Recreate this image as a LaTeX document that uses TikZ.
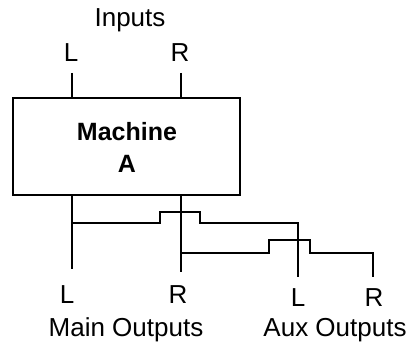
\documentclass[tikz,border=0pt]{standalone}
\usepackage{fontspec}
\setmainfont{Liberation Sans}
\usetikzlibrary{positioning}
\begin{document}
\begin{tikzpicture}[x=0.5pt,y=-0.5pt,line width=1pt,
                    font=\fontsize{13}{15}\selectfont]
  \tikzstyle{machine}=[draw,rectangle,inner sep=0pt,
    minimum width=113.5pt,minimum height=48.5pt]
  \tikzstyle{title}=[inner sep=0pt,anchor=base,font=\fontsize{12.5}{15}\selectfont\bfseries]
  \tikzstyle{tag}=[inner sep=0pt,anchor=base]
  \useasboundingbox (0,0) rectangle (412,346);
  % the machine
  \node[machine] (M) at (126.5,146.5) {};
  \node[title] (Mname) at (127,141) {Machine};
  \node[title] (Mletter) at (127,173) {A};
  % inputs
  \node[tag] (Inputs) at (130,27) {Inputs};
  \node[tag] (InL) at (71,62) {L};
  \node[tag] (InR) at (180,62) {R};
  \coordinate (inL) at (72,73);
  \coordinate (inR) at (181,73);
  \draw (inL) -- (inL |- M.north);
  \draw (inR) -- (inR |- M.north);
  % outputs
  \coordinate (outL) at (72,269);
  \coordinate (outR) at (181,272);
  \coordinate (auxL) at (298,277);
  \coordinate (auxR) at (373,277);
  \coordinate (wireA) at (0,223);
  \coordinate (wireB) at (0,253);
  \draw (M.south -| outL) -- (outL);
  \draw (M.south -| outR) -- (outR);
  \draw (outL |- wireA) -- ++(88,0) -- ++(0,-11) -- ++(40,0) -- ++(0,11) -| (auxL);
  \draw (outR |- wireB) -- ++(88,0) -- ++(0,-13) -- ++(41,0) -- ++(0,13) -| (auxR);
  \node[tag] (MainL) at (67,304) {L};
  \node[tag] (MainR) at (178,304) {R};
  \node[tag] (AuxL) at (298,307) {L};
  \node[tag] (AuxR) at (374,307) {R};
  \node[tag] (MainOut) at (126,337) {Main Outputs};
  \node[tag] (AuxOut) at (335,337) {Aux Outputs};
\end{tikzpicture}
\end{document}
